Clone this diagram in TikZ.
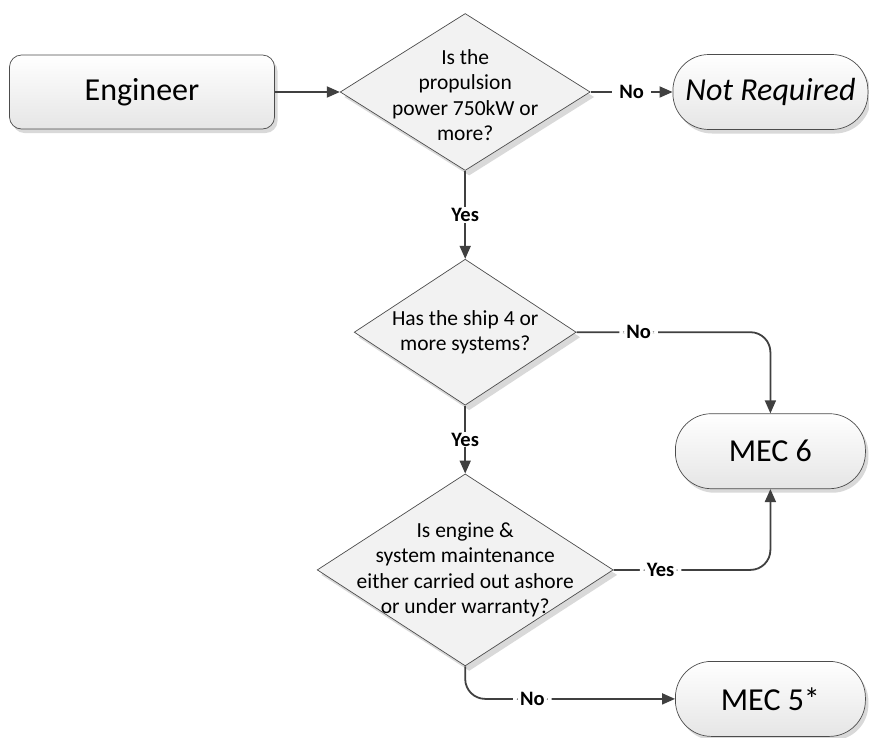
\documentclass[tikz,border=0pt]{standalone}
\usepackage{fontspec}
\setmainfont{Carlito}
\usetikzlibrary{positioning, shapes.geometric, shadows, arrows.meta}

\begin{document}
\begin{tikzpicture} [
        x=1pt, y=-1pt,
        term/.style={rectangle, draw=black!70, line width=0.7pt, top color=white, bottom color=black!10, rounded corners=36pt, minimum width=190pt, minimum height=75pt, font=\fontsize{32}{38}\selectfont, drop shadow={shadow xshift=3pt, shadow yshift=-4pt, fill=black!25, opacity=0.6}},
        start/.style={term, rounded corners=12pt, minimum width=265pt, minimum height=74pt},
        decision/.style={diamond, draw=black!70, line width=0.7pt, fill=black!5, inner sep=0pt, drop shadow={shadow xshift=4pt, shadow yshift=-5pt, fill=black!25, opacity=0.6}},
        qtext/.style={align=center, font=\fontsize{21.5}{25.5}\selectfont},
        line/.style={draw, black!75, line width=1.8pt, -{Triangle[length=13pt, width=11pt]}},
        answer/.style={fill=white, text=black, inner xsep=7pt, inner ysep=1pt, font=\fontsize{20.5}{24}\selectfont\bfseries}
    ]
        \useasboundingbox (0,0) rectangle (869,737);

        % Nodes
        \node[start] (engineer) at (142,92) {Engineer};
        \node[decision, minimum width=250pt, minimum height=157pt, right=65pt of engineer,
            label={[qtext, yshift=-3pt]center:{Is the\\propulsion\\power 750kW or\\more?}}] (q1) {};
        \node[term, minimum width=195pt, right=82pt of q1] (notreq) {\itshape Not Required};

        \node[decision, minimum width=222pt, minimum height=146pt, below=88pt of q1,
            label={[qtext]center:{Has the ship 4 or\\more systems?}}] (q2) {};
        \node[decision, minimum width=296pt, minimum height=192pt, below=68pt of q2,
            label={[qtext]center:{Is engine \&\\system maintenance\\either carried out ashore\\or under warranty?}}] (q3) {};

        \node[term, below=283.5pt of notreq] (mec6) {MEC 6};
        \node[term, below=172pt of mec6] (mec5) {MEC 5*};

        % Paths
        \path [line] (engineer) -- (q1);
        \path [line] (q1) -- node[answer] {No} (notreq);
        \path [line] (q1) -- node[answer] {Yes} (q2);
        \path [line] (q2) -- node[answer] {Yes} (q3);
        \path [line, rounded corners=20pt] (q2.east) -| node[answer, pos=0.16] {No} (mec6.north);
        \path [line, rounded corners=20pt] (q3.east) -| node[answer, pos=0.15] {Yes} (mec6.south);
        \path [line, rounded corners=20pt] (q3.south) |- node[answer, pos=0.66] {No} (mec5.west);
    \end{tikzpicture}
\end{document}
